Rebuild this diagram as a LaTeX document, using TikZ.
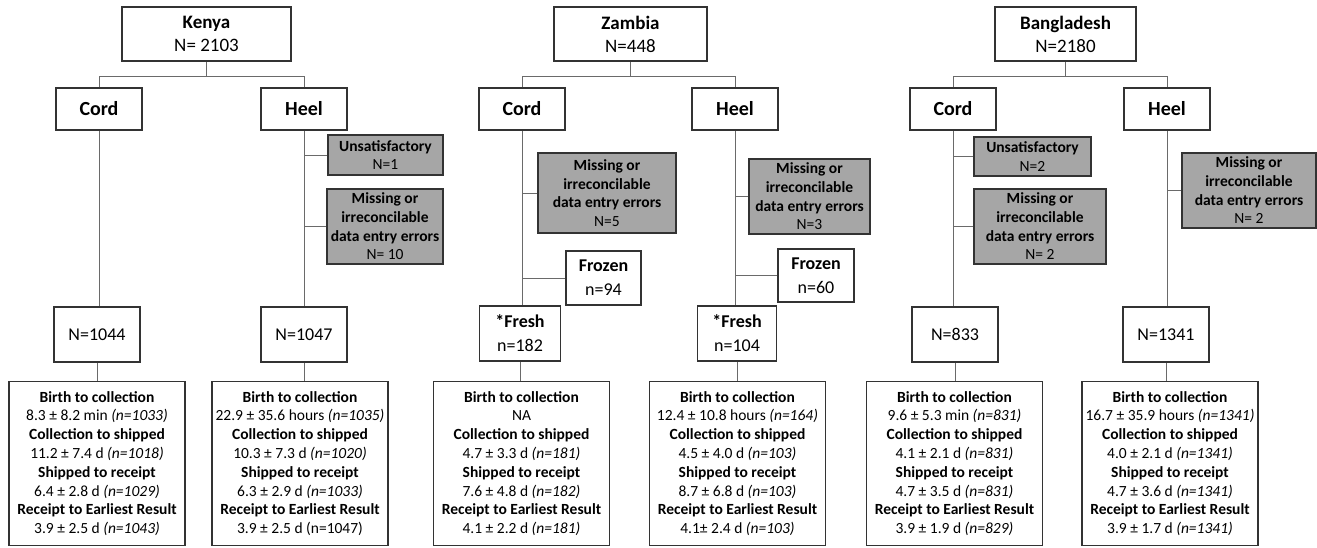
\documentclass[tikz,border=0pt]{standalone}
\usepackage{fontspec}
\setmainfont{Carlito}
\usetikzlibrary{positioning}
\definecolor{boxline}{HTML}{333333}
\definecolor{linkgray}{HTML}{6A6A6A}
\definecolor{errfill}{HTML}{A6A6A6}
\begin{document}
\begin{tikzpicture}[x=1pt, y=-1pt,
    box/.style={draw=boxline, line width=1.5pt, fill=white, align=center, inner sep=2pt},
    country/.style={box, minimum height=54pt, font=\fontsize{19}{23}\selectfont},
    site/.style={box, minimum width=86pt, minimum height=42pt, font=\fontsize{20}{24}\selectfont\bfseries},
    errbox/.style={box, fill=errfill, font=\fontsize{15.5}{18.7}\selectfont},
    countbox/.style={box, minimum width=86pt, minimum height=55pt, font=\fontsize{18}{24}\selectfont},
    statbox/.style={box, minimum width=176pt, minimum height=164pt, font=\fontsize{15.5}{18.8}\selectfont},
    link/.style={draw=linkgray, line width=1pt}]
    \useasboundingbox (0,0) rectangle (1317,547);
    % countries
    \node[country, minimum width=169pt] (ken) at (206.5,34) {\textbf{Kenya}\\N= 2103};
    \node[country, minimum width=153pt] (zam) at (630.5,34) {\textbf{Zambia}\\N=448};
    \node[country, minimum width=141pt] (ban) at (1065.5,34) {\textbf{Bangladesh}\\N=2180};
    % sample sites
    \node[site] (kc) at (99,109) {Cord};
    \node[site] (kh) at (304,109) {Heel};
    \node[site] (zc) at (522,109) {Cord};
    \node[site] (zh) at (735,109) {Heel};
    \node[site] (bc) at (953,109) {Cord};
    \node[site] (bh) at (1167,109) {Heel};
    % exclusions
    \node[errbox, minimum width=115pt, minimum height=40pt] (khu) at (385.5,155) {\textbf{Unsatisfactory}\\N=1};
    \node[errbox, minimum width=116pt, minimum height=75pt] (khm) at (385,226.5) {\textbf{Missing or}\\\textbf{irreconcilable}\\\textbf{data entry errors}\\N= 10};
    \node[errbox, minimum width=138pt, minimum height=80pt] (zcm) at (607,193) {\textbf{Missing or}\\\textbf{irreconcilable}\\\textbf{data entry errors}\\N=5};
    \node[errbox, minimum width=121pt, minimum height=75pt] (zhm) at (809.5,196.5) {\textbf{Missing or}\\\textbf{irreconcilable}\\\textbf{data entry errors}\\N=3};
    \node[errbox, minimum width=117pt, minimum height=39pt] (bcu) at (1032.5,156.5) {\textbf{Unsatisfactory}\\N=2};
    \node[errbox, minimum width=132pt, minimum height=75pt] (bcm) at (1040,226.5) {\textbf{Missing or}\\\textbf{irreconcilable}\\\textbf{data entry errors}\\N= 2};
    \node[errbox, minimum width=134pt, minimum height=75pt] (bhm) at (1249,190.5) {\textbf{Missing or}\\\textbf{irreconcilable}\\\textbf{data entry errors}\\N= 2};
    % frozen / fresh
    \node[countbox, minimum width=75pt, minimum height=54pt] (zcz) at (603.5,278) {\textbf{Frozen}\\n=94};
    \node[countbox, minimum width=76pt, minimum height=53pt] (zhz) at (816,275.5) {\textbf{Frozen}\\n=60};
    \node[countbox, minimum width=81pt] (zcf) at (520,333.5) {\textbf{*Fresh}\\n=182};
    \node[countbox, minimum width=79pt] (zhf) at (737,333.5) {\textbf{*Fresh}\\n=104};
    % counts
    \node[countbox] (kcn) at (97,334.5) {N=1044};
    \node[countbox] (khn) at (304,334.5) {N=1047};
    \node[countbox] (bcn) at (955,334.5) {N=833};
    \node[countbox] (bhn) at (1166,334.5) {N=1341};
    % timings
    \node[statbox] (kcs) at (97,463.5) {\textbf{Birth to collection}\\8.3 ± 8.2 min \textit{(n=1033)}\\\textbf{Collection to shipped}\\11.2 ± 7.4 d \textit{(n=1018)}\\\textbf{Shipped to receipt}\\6.4 ± 2.8 d \textit{(n=1029)}\\\textbf{Receipt to Earliest Result}\\3.9 ± 2.5 d \textit{(n=1043)}};
    \node[statbox] (khs) at (300,463.5) {\textbf{Birth to collection}\\22.9 ± 35.6 hours \textit{(n=1035)}\\\textbf{Collection to shipped}\\10.3 ± 7.3 d \textit{(n=1020)}\\\textbf{Shipped to receipt}\\6.3 ± 2.9 d \textit{(n=1033)}\\\textbf{Receipt to Earliest Result}\\3.9 ± 2.5 d (n=1047)};
    \node[statbox] (zcs) at (521.5,463.5) {\textbf{Birth to collection}\\NA\\\textbf{Collection to shipped}\\4.7 ± 3.3 d \textit{(n=181)}\\\textbf{Shipped to receipt}\\7.6 ± 4.8 d \textit{(n=182)}\\\textbf{Receipt to Earliest Result}\\4.1 ± 2.2 d \textit{(n=181)}};
    \node[statbox] (zhs) at (737.5,463.5) {\textbf{Birth to collection}\\12.4 ± 10.8 hours \textit{(n=164)}\\\textbf{Collection to shipped}\\4.5 ± 4.0 d \textit{(n=103)}\\\textbf{Shipped to receipt}\\8.7 ± 6.8 d \textit{(n=103)}\\\textbf{Receipt to Earliest Result}\\4.1± 2.4 d \textit{(n=103)}};
    \node[statbox] (bcs) at (954.5,463.5) {\textbf{Birth to collection}\\9.6 ± 5.3 min \textit{(n=831)}\\\textbf{Collection to shipped}\\4.1 ± 2.1 d \textit{(n=831)}\\\textbf{Shipped to receipt}\\4.7 ± 3.5 d \textit{(n=831)}\\\textbf{Receipt to Earliest Result}\\3.9 ± 1.9 d \textit{(n=829)}};
    \node[statbox] (bhs) at (1170,463.5) {\textbf{Birth to collection}\\16.7 ± 35.9 hours \textit{(n=1341)}\\\textbf{Collection to shipped}\\4.0 ± 2.1 d \textit{(n=1341)}\\\textbf{Shipped to receipt}\\4.7 ± 3.6 d \textit{(n=1341)}\\\textbf{Receipt to Earliest Result}\\3.9 ± 1.7 d \textit{(n=1341)}};
    % tree links
    \begin{scope}[on background layer/.try]
    \draw[link] (ken.south) -- ++(0,15) coordinate (kbar);
    \draw[link] (kc.north) |- (kbar) -| (kh.north);
    \draw[link] (zam.south) -- ++(0,15) coordinate (zbar);
    \draw[link] (zc.north) |- (zbar) -| (zh.north);
    \draw[link] (ban.south) -- ++(0,15) coordinate (bbar);
    \draw[link] (bc.north) |- (bbar) -| (bh.north);
    \end{scope}
    % columns
    \draw[link] (kc.south) -- (kc.south |- kcn.north);
    \draw[link] (kcn.south) -- (kcn.south |- kcs.north);
    \draw[link] (kh.south) -- (kh.south |- khn.north);
    \draw[link] (khn.south) -- (khn.south |- khs.north);
    \draw[link] (zc.south) -- (zc.south |- zcf.north);
    \draw[link] (zcf.south) -- (zcf.south |- zcs.north);
    \draw[link] (zh.south) -- (zh.south |- zhf.north);
    \draw[link] (zhf.south) -- (zhf.south |- zhs.north);
    \draw[link] (bc.south) -- (bc.south |- bcn.north);
    \draw[link] (bcn.south) -- (bcn.south |- bcs.north);
    \draw[link] (bh.south) -- (bh.south |- bhn.north);
    \draw[link] (bhn.south) -- (bhn.south |- bhs.north);
    % branches
    \draw[link] (khu.west) -- (khu.west -| kh.south);
    \draw[link] (khm.west) -- (khm.west -| kh.south);
    \draw[link] (zcm.west) -- (zcm.west -| zc.south);
    \draw[link] (zcz.west) -- (zcz.west -| zc.south);
    \draw[link] (zhm.west) -- (zhm.west -| zh.south);
    \draw[link] (zhz.west) -- (zhz.west -| zh.south);
    \draw[link] (bcu.west) -- (bcu.west -| bc.south);
    \draw[link] (bcm.west) -- (bcm.west -| bc.south);
    \draw[link] (bhm.west) -- (bhm.west -| bh.south);
\end{tikzpicture}
\end{document}
